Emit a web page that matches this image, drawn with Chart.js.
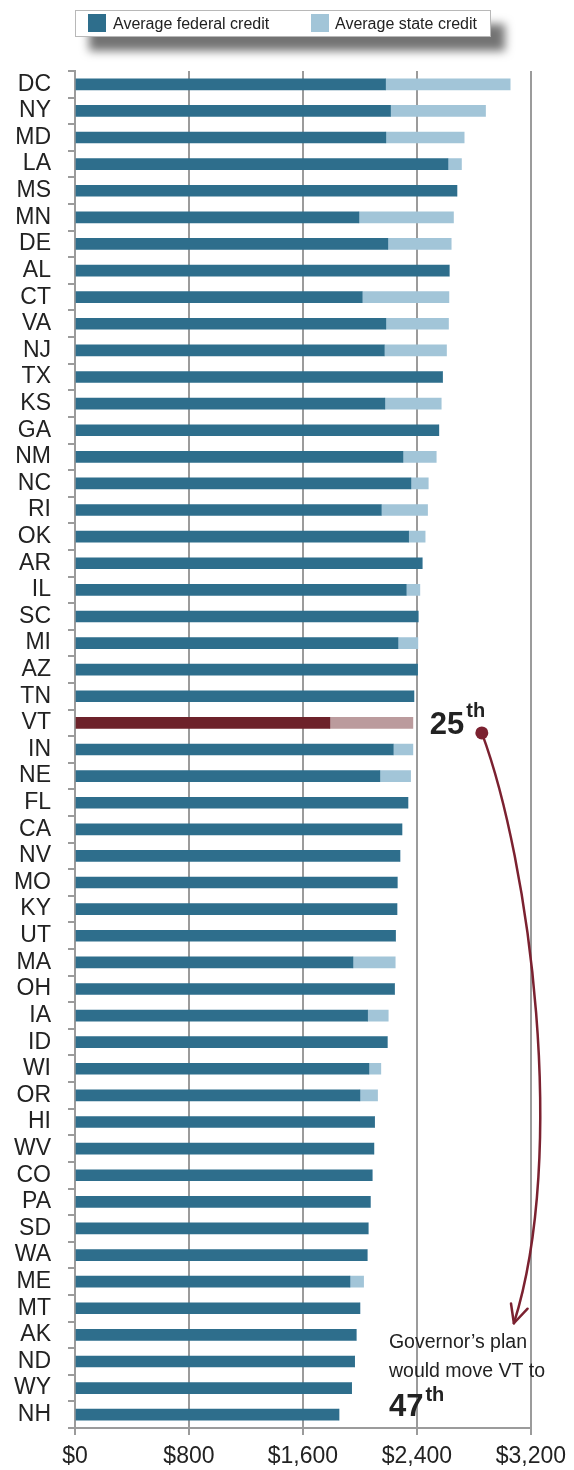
<!DOCTYPE html>
<html><head><meta charset="utf-8">
<script src="https://cdn.jsdelivr.net/npm/chart.js@4.4.1/dist/chart.umd.min.js"></script>
<style>
html,body{margin:0;padding:0;background:#fff;}
#wrap{position:relative;width:574px;height:1470px;overflow:hidden;}
#c{position:absolute;left:0;top:0;}
#legend{position:absolute;left:75px;top:10px;width:414px;height:25px;border:1px solid #b8b8b8;background:#fff;
 box-shadow:14px 14px 10px rgba(0,0,0,0.55);font-family:'Liberation Sans',Arial,sans-serif;font-size:16px;color:#222;z-index:2}
.sw{position:absolute;top:3px;width:18px;height:18px}
.lt{position:absolute;top:3px;line-height:19px;white-space:nowrap}
</style></head>
<body><div id="wrap">
<canvas id="c" width="574" height="1470" style="width:574px;height:1470px"></canvas>
<div id="legend">
 <div class="sw" style="left:12px;background:#2e6e8c"></div><div class="lt" style="left:37px">Average federal credit</div>
 <div class="sw" style="left:235px;background:#a2c5d8"></div><div class="lt" style="left:259px">Average state credit</div>
</div>
</div>
<script>
const states = ['DC','NY','MD','LA','MS','MN','DE','AL','CT','VA','NJ','TX','KS','GA','NM','NC','RI','OK','AR','IL','SC','MI','AZ','TN','VT','IN','NE','FL','CA','NV','MO','KY','UT','MA','OH','IA','ID','WI','OR','HI','WV','CO','PA','SD','WA','ME','MT','AK','ND','WY','NH'];
const federalCredit = [2180,2215,2182,2618,2681,1993,2196,2627,2016,2182,2171,2580,2175,2554,2302,2358,2150,2342,2437,2325,2409,2267,2405,2379,1789,2234,2140,2337,2295,2281,2262,2260,2250,1951,2243,2054,2192,2063,2000,2103,2098,2086,2073,2058,2051,1930,2000,1974,1963,1942,1853];
const stateCredit = [875,667,550,95,0,664,445,0,609,440,437,0,396,0,234,122,325,116,0,96,0,140,0,0,583,138,216,0,0,0,0,0,0,297,0,145,0,84,124,0,0,0,0,0,0,96,0,0,0,0,0];
const xTickValues = [0,800,1600,2400,3200];
const highlight = 'VT';

const FONT = "'Liberation Sans', Arial, Helvetica, sans-serif";
const fedColors = states.map(s => s === highlight ? '#6d222a' : '#2e6e8c');
const stColors = states.map(s => s === highlight ? '#bb9b9d' : '#a2c5d8');
const GRID = '#9b9b9b';

const annot = {
  id: 'annot',
  afterDraw(chart) {
    const ctx = chart.ctx;
    const x = chart.scales.x, y = chart.scales.y;
    const vtY = y.getPixelForValue(states.indexOf(highlight));
    const mtY = y.getPixelForValue(states.indexOf('MT'));
    const ndY = y.getPixelForValue(states.indexOf('ND'));
    const nhY = y.getPixelForValue(states.indexOf('NH'));
    const red = '#7b2130';
    ctx.save();
    ctx.fillStyle = '#222';
    ctx.textBaseline = 'alphabetic';
    ctx.textAlign = 'left';
    // 25th
    ctx.font = "bold 31px " + FONT;
    const x25 = x.getPixelForValue(2491);
    ctx.fillText('25', x25, vtY + 11);
    const w25 = ctx.measureText('25').width;
    ctx.font = "bold 20px " + FONT;
    ctx.fillText('th', x25 + w25 + 2, vtY - 6);
    // Governor text
    const xg = x.getPixelForValue(2204);
    ctx.font = "19.5px " + FONT;
    ctx.fillText('Governor\u2019s plan', xg, ndY - 13);
    ctx.fillText('would move VT to', xg, ndY + 16);
    ctx.font = "bold 31px " + FONT;
    ctx.fillText('47', xg, nhY + 1);
    const w47 = ctx.measureText('47').width;
    ctx.font = "bold 20px " + FONT;
    ctx.fillText('th', xg + w47 + 2, nhY - 14);
    // curve
    const p0 = {x: x.getPixelForValue(2856), y: vtY + 10};
    const p3 = {x: x.getPixelForValue(3081), y: mtY + 15};
    const span = p3.y - p0.y;
    const p1 = {x: x.getPixelForValue(3193), y: p0.y + 0.22 * span};
    const p2 = {x: x.getPixelForValue(3460), y: p0.y + 0.71 * span};
    ctx.strokeStyle = red;
    ctx.lineWidth = 2.5;
    ctx.lineCap = 'round';
    ctx.beginPath();
    ctx.moveTo(p0.x, p0.y);
    ctx.bezierCurveTo(p1.x, p1.y, p2.x, p2.y, p3.x, p3.y);
    ctx.stroke();
    // arrowhead
    const ang = Math.atan2(p3.y - p2.y, p3.x - p2.x);
    const L = 20;
    ctx.beginPath();
    for (const d of [-0.45, 0.45]) {
      ctx.moveTo(p3.x, p3.y);
      ctx.lineTo(p3.x - L * Math.cos(ang + d), p3.y - L * Math.sin(ang + d));
    }
    ctx.stroke();
    // dot
    ctx.fillStyle = red;
    ctx.beginPath();
    ctx.arc(p0.x, p0.y, 6.5, 0, Math.PI * 2);
    ctx.fill();
    ctx.restore();
  }
};

new Chart(document.getElementById('c'), {
  type: 'bar',
  data: {
    labels: states,
    datasets: [
      {label: 'Average federal credit', data: federalCredit, backgroundColor: fedColors, barThickness: 11, borderWidth: 0},
      {label: 'Average state credit', data: stateCredit, backgroundColor: stColors, barThickness: 11, borderWidth: 0}
    ]
  },
  options: {
    indexAxis: 'y',
    responsive: false,
    animation: false,
    layout: {padding: {top: 71, right: 43, left: 0, bottom: 0}},
    plugins: {legend: {display: false}, tooltip: {enabled: false}},
    scales: {
      x: {
        stacked: true, min: 0, max: 3200,
        afterBuildTicks: (s) => { s.ticks = xTickValues.map(v => ({value: v})); },
        afterFit: (s) => { s.height = 42; },
        grid: {color: GRID, lineWidth: 2, tickLength: 7, drawOnChartArea: true},
        border: {display: true, color: GRID, width: 2},
        ticks: {
          color: '#222', padding: 8,
          font: {family: FONT, size: 23},
          callback: (v) => '$' + Number(v).toLocaleString('en-US'),
          maxRotation: 0
        }
      },
      y: {
        stacked: true,
        afterFit: (s) => { s.width = 75; },
        grid: {color: GRID, lineWidth: 2, tickLength: 7, drawOnChartArea: false, offset: true},
        border: {display: true, color: GRID, width: 2},
        ticks: {color: '#222', padding: 17, autoSkip: false, font: {family: FONT, size: 23}}
      }
    }
  },
  plugins: [annot]
});
</script>
</body></html>
